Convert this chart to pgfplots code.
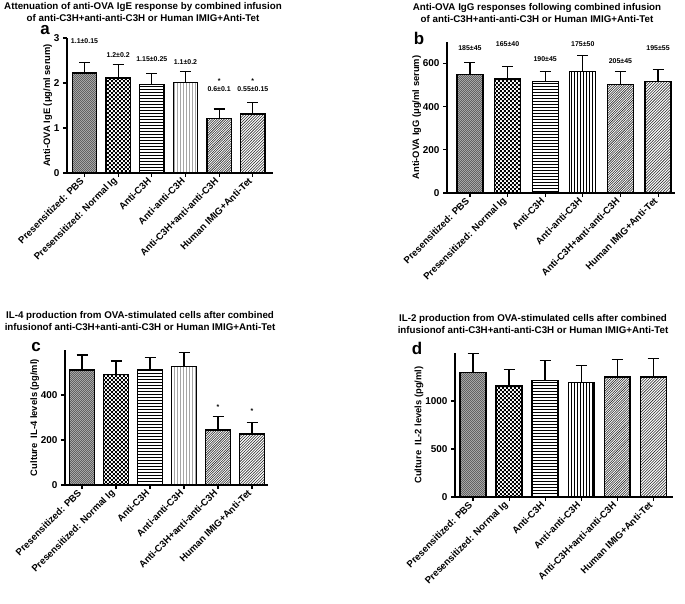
\documentclass[border=0pt]{standalone}
\usepackage{fontspec}
\setmainfont{Liberation Sans}
\usepackage{pgfplots}
\pgfplotsset{compat=1.18}
\usetikzlibrary{patterns}

\pgfdeclarepatterninherentlycolored{pbs}{\pgfpointorigin}{\pgfqpoint{2pt}{2pt}}{\pgfqpoint{2pt}{2pt}}{%
 \pgfsetfillcolor{black!30}\pgfpathrectangle{\pgfpointorigin}{\pgfqpoint{2pt}{2pt}}\pgfusepath{fill}%
 \pgfsetfillcolor{black!62}\pgfpathrectangle{\pgfpointorigin}{\pgfqpoint{1pt}{1pt}}%
 \pgfpathrectangle{\pgfqpoint{1pt}{1pt}}{\pgfqpoint{1pt}{1pt}}\pgfusepath{fill}}
\pgfdeclarepatternformonly{checker}{\pgfpointorigin}{\pgfqpoint{4pt}{4pt}}{\pgfqpoint{4pt}{4pt}}{%
 \pgfpathrectangle{\pgfpointorigin}{\pgfqpoint{2pt}{2pt}}%
 \pgfpathrectangle{\pgfqpoint{2pt}{2pt}}{\pgfqpoint{2pt}{2pt}}\pgfusepath{fill}}
\pgfdeclarepatternformonly{dnel}{\pgfqpoint{-1pt}{-1pt}}{\pgfqpoint{3.5pt}{3.5pt}}{\pgfqpoint{2.4pt}{2.4pt}}{%
 \pgfsetlinewidth{0.55pt}\pgfpathmoveto{\pgfqpoint{0pt}{0pt}}\pgfpathlineto{\pgfqpoint{2.5pt}{2.5pt}}\pgfusepath{stroke}}
\pgfdeclarepatternformonly{dnel2}{\pgfqpoint{-1pt}{-1pt}}{\pgfqpoint{4pt}{4pt}}{\pgfqpoint{2.8pt}{2.8pt}}{%
 \pgfsetlinewidth{0.55pt}\pgfpathmoveto{\pgfqpoint{0pt}{0pt}}\pgfpathlineto{\pgfqpoint{2.9pt}{2.9pt}}\pgfusepath{stroke}}

\pgfplotsset{
 gp/.style={
  scale only axis, clip=false,
  axis x line=bottom, axis y line=left,
  axis line style={-, line width=1.3pt},
  tick align=outside, major tick length=4bp,
  tick style={line width=1.1pt, black},
  xtick={0,...,5},
  xticklabels={Presensitized: PBS, Presensitized: Normal Ig, Anti-C3H, Anti-anti-C3H, Anti-C3H+anti-anti-C3H, Human IMIG+Anti-Tet},
  x tick label style={rotate=45, anchor=east, font=\bfseries\fontsize{9.6}{10}\selectfont},
  y tick label style={font=\bfseries\fontsize{10}{11}\selectfont},
  ylabel style={font=\bfseries\fontsize{9.4}{10}\selectfont, yshift=-5bp},
  /pgf/number format/assume math mode=true,
  /pgf/number format/1000 sep={},
  scaled y ticks=false,
  ymin=0,
  error bars/y dir=plus, error bars/y explicit,
  error bars/error bar style={line width=1.2pt, black},
  error bars/error mark options={rotate=90, line width=1.2pt, black, mark size=5.5bp},
 },
 bb/.style={ybar, bar shift=0pt, draw=black, line width=1.3pt},
 s1/.style={bb, pattern=pbs},
 s2/.style={bb, pattern=checker, pattern color=black},
 s3/.style={bb, pattern=horizontal lines, pattern color=black},
 s4/.style={bb, pattern=vertical lines, pattern color=black},
 s5/.style={bb, pattern=dnel, pattern color=black!85},
 s6/.style={bb, pattern=dnel2, pattern color=black!85},
}
\tikzset{ann/.style={font=\bfseries\fontsize{7}{7}\selectfont, inner sep=0pt},
 ttl/.style={align=center, font=\bfseries\fontsize{9.8}{12}\selectfont},
 lett/.style={font=\bfseries\fontsize{17}{17}\selectfont}}

\begin{document}
\begin{tikzpicture}
\path[use as bounding box] (0,0) rectangle (685bp,604bp);

% ---------- panel a
\begin{axis}[gp, at={(67bp,431bp)}, anchor=south west, width=206bp, height=135bp,
  xmin=-0.52, xmax=5.6, ymax=3, ytick={0,1,2,3}, bar width=0.72,
  ylabel={Anti-OVA IgE (μg/ml serum)}]
\addplot[s1] coordinates {(0,2.22) +- (0,0.24)};
\addplot[s2] coordinates {(1,2.11) +- (0,0.30)};
\addplot[s3] coordinates {(2,1.97) +- (0,0.24)};
\addplot[s4] coordinates {(3,2.01) +- (0,0.25)};
\addplot[s5] coordinates {(4,1.21) +- (0,0.21)};
\addplot[s6] coordinates {(5,1.31) +- (0,0.25)};
\node[ann] at (axis cs:0,2.92) {1.1±0.15};
\node[ann] at (axis cs:1,2.62) {1.2±0.2};
\node[ann] at (axis cs:2,2.53) {1.15±0.25};
\node[ann] at (axis cs:3,2.47) {1.1±0.2};
\node[ann] at (axis cs:4,2.05) {*};
\node[ann] at (axis cs:5,2.05) {*};
\node[ann] at (axis cs:4,1.86) {0.6±0.1};
\node[ann] at (axis cs:5,1.86) {0.55±0.15};
\end{axis}

% ---------- panel b
\begin{axis}[gp, at={(447bp,411bp)}, anchor=south west, width=228bp, height=151bp,
  xmin=-0.61, xmax=5.45, ymax=700, ytick={0,200,400,600}, bar width=0.69,
  ylabel={Anti-OVA IgG (μg/ml serum)}]
\addplot[s1] coordinates {(0,549) +- (0,57)};
\addplot[s2] coordinates {(1,528) +- (0,60)};
\addplot[s3] coordinates {(2,517) +- (0,46)};
\addplot[s4] coordinates {(3,563) +- (0,74)};
\addplot[s5] coordinates {(4,503) +- (0,60)};
\addplot[s6] coordinates {(5,517) +- (0,55)};
\node[ann] at (axis cs:0,673) {185±45};
\node[ann] at (axis cs:1,688) {165±40};
\node[ann] at (axis cs:2,623) {190±45};
\node[ann] at (axis cs:3,688) {175±50};
\node[ann] at (axis cs:4,612) {205±45};
\node[ann] at (axis cs:5,673) {195±55};
\end{axis}

% ---------- panel c
\begin{axis}[gp, at={(65bp,119bp)}, anchor=south west, width=203bp, height=135bp,
  xmin=-0.5, xmax=5.47, ymax=600, ytick={0,200,400}, bar width=0.72,
  ylabel={Culture\ \ IL-4 levels (pg/ml)}]
\addplot[s1] coordinates {(0,511) +- (0,67)};
\addplot[s2] coordinates {(1,492) +- (0,59)};
\addplot[s3] coordinates {(2,511) +- (0,55)};
\addplot[s4] coordinates {(3,526) +- (0,62)};
\addplot[s5] coordinates {(4,244) +- (0,60)};
\addplot[s6] coordinates {(5,227) +- (0,52)};
\node[ann] at (axis cs:4,346) {*};
\node[ann] at (axis cs:5,328) {*};
\end{axis}

% ---------- panel d
\begin{axis}[gp, at={(455bp,107bp)}, anchor=south west, width=218bp, height=144bp,
  xmin=-0.5, xmax=5.55, ymax=1500, ytick={0,500,1000}, bar width=0.72,
  ylabel={Culture\ \ IL-2 levels (pg/ml)}]
\addplot[s1] coordinates {(0,1294) +- (0,201)};
\addplot[s2] coordinates {(1,1156) +- (0,176)};
\addplot[s3] coordinates {(2,1211) +- (0,208)};
\addplot[s4] coordinates {(3,1194) +- (0,173)};
\addplot[s5] coordinates {(4,1249) +- (0,183)};
\addplot[s6] coordinates {(5,1249) +- (0,190)};
\end{axis}

% titles and letters
\node[ttl] at (143bp,592bp) {Attenuation of anti-OVA IgE response by combined infusion\\of anti-C3H+anti-anti-C3H or Human IMIG+Anti-Tet};
\node[ttl] at (537bp,591bp) {Anti-OVA IgG responses following combined infusion\\of anti-C3H+anti-anti-C3H or Human IMIG+Anti-Tet};
\node[ttl] at (140bp,283bp) {IL-4 production from OVA-stimulated cells after combined\\infusionof anti-C3H+anti-anti-C3H or Human IMIG+Anti-Tet};
\node[ttl] at (533bp,280bp) {IL-2 production from OVA-stimulated cells after combined\\infusionof anti-C3H+anti-anti-C3H or Human IMIG+Anti-Tet};
\node[lett] at (45bp,574bp) {a};
\node[lett] at (419bp,566bp) {b};
\node[lett] at (36bp,257bp) {c};
\node[lett] at (417bp,256bp) {d};
\end{tikzpicture}
\end{document}
